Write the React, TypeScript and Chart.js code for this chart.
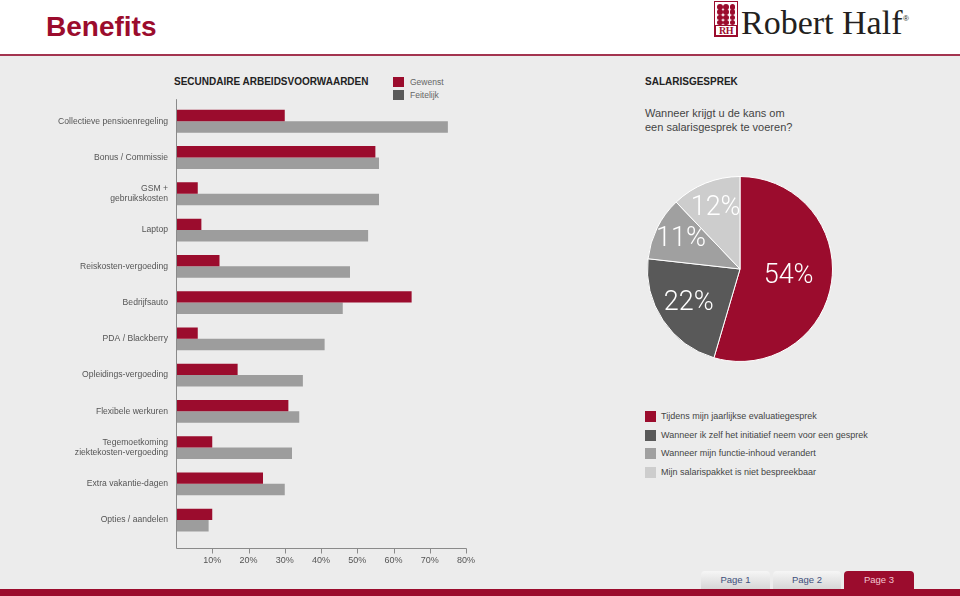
import React, { useEffect, useRef } from "react";
import { Chart, registerables } from "chart.js";

Chart.register(...registerables);

// ---------- data ----------
const categories: (string | string[])[] = [
  "Collectieve pensioenregeling",
  "Bonus / Commissie",
  ["GSM +", "gebruikskosten"],
  "Laptop",
  "Reiskosten-vergoeding",
  "Bedrijfsauto",
  "PDA / Blackberry",
  "Opleidings-vergoeding",
  "Flexibele werkuren",
  ["Tegemoetkoming", "ziektekosten-vergoeding"],
  "Extra vakantie-dagen",
  "Opties / aandelen",
];
const gewenst = [30, 55, 6, 7, 12, 65, 6, 17, 31, 10, 24, 10];
const feitelijk = [75, 56, 56, 53, 48, 46, 41, 35, 34, 32, 30, 9];
const barSeriesNames = ["Gewenst", "Feitelijk"];
const xMax = 80;
const xStep = 10;

const pieLabels = [
  "Tijdens mijn jaarlijkse evaluatiegesprek",
  "Wanneer ik zelf het initiatief neem voor een gesprek",
  "Wanneer mijn functie-inhoud verandert",
  "Mijn salarispakket is niet bespreekbaar",
];
const pieValues = [54, 22, 11, 12];

const tabLabels = ["Page 1", "Page 2", "Page 3"];

// ---------- styles ----------
const RED = "#9b0c2d";
const BAR_GRAY = "#9d9d9d";
const LEGEND_DARK = "#5a5a5a";
const PIE_COLORS = [RED, "#595959", "#a0a0a0", "#cdcdcd"];
const FONT = "'Liberation Sans', Arial, sans-serif";

const axisPlugin = {
  id: "customAxes",
  afterDraw(chart: any) {
    const { ctx, chartArea, scales } = chart;
    const x = scales.x;
    const x0 = Math.round(x.getPixelForValue(0)) + 0.5;
    const yb = Math.round(chartArea.bottom + 10) + 0.5;
    ctx.save();
    ctx.strokeStyle = "#8a8a8a";
    ctx.lineWidth = 1;
    ctx.beginPath();
    ctx.moveTo(x0, chartArea.top - 4);
    ctx.lineTo(x0, yb);
    ctx.stroke();
    ctx.beginPath();
    ctx.moveTo(x0, yb);
    ctx.lineTo(Math.round(x.getPixelForValue(xMax)) + 0.5, yb);
    x.ticks.forEach((t: any) => {
      if (t.value === 0) return;
      const px = Math.round(x.getPixelForValue(t.value)) + 0.5;
      ctx.moveTo(px, yb);
      ctx.lineTo(px, yb + 5);
    });
    ctx.stroke();
    ctx.restore();
  },
};

const pieLabelPlugin = {
  id: "pieLabels",
  afterDatasetsDraw(chart: any) {
    const { ctx } = chart;
    const meta = chart.getDatasetMeta(0);
    const total = pieValues.reduce((a, b) => a + b, 0);
    ctx.save();
    ctx.fillStyle = "#ffffff";
    ctx.font = "300 27px Roboto, 'Liberation Sans', sans-serif";
    ctx.textAlign = "center";
    ctx.textBaseline = "middle";
    meta.data.forEach((arc: any, i: number) => {
      const p = arc.getProps(["x", "y", "startAngle", "endAngle", "outerRadius"], true);
      const mid = (p.startAngle + p.endAngle) / 2;
      const frac = pieValues[i] / total;
      const r = p.outerRadius * (0.76 - 0.42 * frac);
      ctx.fillText(`${pieValues[i]}%`, p.x + Math.cos(mid) * r, p.y + Math.sin(mid) * r);
    });
    ctx.restore();
  },
};

function BarChart() {
  const ref = useRef<HTMLCanvasElement>(null);
  useEffect(() => {
    if (!ref.current) return;
    const chart = new Chart(ref.current, {
      type: "bar",
      data: {
        labels: categories as any,
        datasets: [
          {
            label: barSeriesNames[0],
            data: gewenst,
            backgroundColor: RED,
            categoryPercentage: 0.63,
            barPercentage: 1,
          },
          {
            label: barSeriesNames[1],
            data: feitelijk,
            backgroundColor: BAR_GRAY,
            categoryPercentage: 0.63,
            barPercentage: 1,
          },
        ],
      },
      options: {
        indexAxis: "y",
        responsive: false,
        animation: false,
        layout: { padding: { top: 9, right: 34, left: 0, bottom: 0 } },
        plugins: { legend: { display: false }, tooltip: { enabled: false } },
        scales: {
          x: {
            min: 0,
            max: xMax,
            ticks: {
              stepSize: xStep,
              callback: (v: any) => (v === 0 ? "" : `${v}%`),
              font: { size: 9, family: FONT },
              color: "#555",
              padding: 17,
              maxRotation: 0,
              autoSkip: false,
            },
            grid: { display: false, drawTicks: false },
            border: { display: false },
            afterFit: (s: any) => {
              s.height = 41.8;
            },
          },
          y: {
            ticks: {
              font: { size: 8.6, family: FONT },
              color: "#555",
              padding: 8,
              autoSkip: false,
            },
            grid: { display: false, drawTicks: false },
            border: { display: false },
            afterFit: (s: any) => {
              s.width = 176;
            },
          },
        },
      } as any,
      plugins: [axisPlugin],
    });
    return () => chart.destroy();
  }, []);
  return (
    <canvas
      ref={ref}
      width={500}
      height={490}
      style={{ position: "absolute", left: 0, top: 90, width: 500, height: 490 }}
    />
  );
}

function PieChart() {
  const ref = useRef<HTMLCanvasElement>(null);
  useEffect(() => {
    if (!ref.current) return;
    const chart = new Chart(ref.current, {
      type: "pie",
      data: {
        labels: pieLabels,
        datasets: [
          {
            data: pieValues,
            backgroundColor: PIE_COLORS,
            borderColor: "#ffffff",
            borderWidth: 1,
          },
        ],
      },
      options: {
        responsive: false,
        animation: false,
        layout: { padding: 0 },
        plugins: { legend: { display: false }, tooltip: { enabled: false } },
      } as any,
      plugins: [pieLabelPlugin],
    });
    return () => chart.destroy();
  }, []);
  return (
    <canvas
      ref={ref}
      width={186}
      height={186}
      style={{ position: "absolute", left: 647, top: 176, width: 186, height: 186 }}
    />
  );
}

function Text(props: {
  x: number;
  y: number;
  size: number;
  children: React.ReactNode;
  color?: string;
  weight?: number | string;
  family?: string;
  spacing?: number;
}) {
  return (
    <div
      style={{
        position: "absolute",
        left: props.x,
        top: props.y - props.size / 2,
        fontSize: props.size,
        lineHeight: `${props.size}px`,
        color: props.color || "#444",
        fontWeight: props.weight as any,
        fontFamily: props.family || FONT,
        letterSpacing: props.spacing,
        whiteSpace: "nowrap",
      }}
    >
      {props.children}
    </div>
  );
}

function Logo() {
  const dots = [];
  for (let r = 0; r < 4; r++)
    for (let c = 0; c < 3; c++)
      dots.push(
        <div
          key={`${r}-${c}`}
          style={{
            position: "absolute",
            left: 2 + c * 6.3,
            top: 2 + r * 5.3,
            width: 5.5,
            height: 5.5,
            borderRadius: 3,
            background: RED,
          }}
        />
      );
  return (
    <>
      <div
        style={{
          position: "absolute",
          left: 714,
          top: 1,
          width: 24,
          height: 36,
          border: `1px solid ${RED}`,
          boxSizing: "border-box",
        }}
      >
        {dots}
        <div
          style={{
            position: "absolute",
            left: 0,
            top: 23,
            width: 22,
            height: 11,
            border: `1px solid ${RED}`,
            boxSizing: "border-box",
            fontFamily: "'Liberation Serif', serif",
            fontSize: 10,
            lineHeight: "10px",
            color: RED,
            textAlign: "center",
            fontWeight: 700,
            letterSpacing: -0.5,
          }}
        >
          RH
        </div>
      </div>
      <div
        style={{
          position: "absolute",
          left: 741,
          top: 6,
          fontFamily: "'Liberation Serif', serif",
          fontSize: 34,
          lineHeight: "34px",
          color: "#231f20",
          whiteSpace: "nowrap",
        }}
      >
        Robert Half
      </div>
      <div
        style={{
          position: "absolute",
          left: 903,
          top: 15,
          fontFamily: FONT,
          fontSize: 8,
          lineHeight: "8px",
          color: "#231f20",
        }}
      >
        ®
      </div>
    </>
  );
}

export default function App() {
  return (
    <div
      style={{
        position: "fixed",
        left: 0,
        top: 0,
        width: 960,
        height: 596,
        overflow: "hidden",
        background: "#ffffff",
        fontFamily: FONT,
      }}
    >
      {/* header */}
      <div
        style={{
          position: "absolute",
          left: 46,
          top: 13,
          fontSize: 28,
          lineHeight: "28px",
          fontWeight: 700,
          color: RED,
          fontFamily: FONT,
        }}
      >
        Benefits
      </div>
      <Logo />
      <div style={{ position: "absolute", left: 0, top: 54, width: 960, height: 2, background: "#a3344f" }} />
      {/* panel */}
      <div style={{ position: "absolute", left: 0, top: 56, width: 960, height: 533, background: "#ececec" }} />
      <div style={{ position: "absolute", left: 0, top: 589, width: 960, height: 7, background: RED }} />

      {/* left section header & legend */}
      <Text x={174} y={82} size={10} weight={700} color="#222">
        SECUNDAIRE ARBEIDSVOORWAARDEN
      </Text>
      <div style={{ position: "absolute", left: 393, top: 77, width: 11, height: 10, background: RED }} />
      <div style={{ position: "absolute", left: 393, top: 90, width: 11, height: 10, background: LEGEND_DARK }} />
      <Text x={410} y={82} size={8.5} color="#666">
        {barSeriesNames[0]}
      </Text>
      <Text x={410} y={95} size={8.5} color="#666">
        {barSeriesNames[1]}
      </Text>

      <BarChart />

      {/* right section */}
      <Text x={645} y={82} size={10} weight={700} color="#222">
        SALARISGESPREK
      </Text>
      <Text x={645} y={113} size={11} color="#444">
        Wanneer krijgt u de kans om
      </Text>
      <Text x={645} y={127} size={11} color="#444">
        een salarisgesprek te voeren?
      </Text>

      <PieChart />

      {pieLabels.map((l, i) => (
        <React.Fragment key={l}>
          <div
            style={{
              position: "absolute",
              left: 645,
              top: 411 + i * 18.5,
              width: 11,
              height: 11,
              background: PIE_COLORS[i],
            }}
          />
          <Text x={661} y={416.5 + i * 18.5} size={9} color="#444">
            {l}
          </Text>
        </React.Fragment>
      ))}

      {/* tabs */}
      {tabLabels.map((t, i) => {
        const lefts = [701, 773, 844];
        const widths = [69, 68, 70];
        const active = i === 2;
        return (
          <div
            key={t}
            style={{
              position: "absolute",
              left: lefts[i],
              top: 571,
              width: widths[i],
              height: 18,
              borderRadius: "4px 4px 0 0",
              background: active ? RED : "linear-gradient(#f6f6f6, #d6d6d6)",
              color: active ? "#f3c6d1" : "#3e4f7c",
              fontSize: 9.5,
              lineHeight: "18px",
              textAlign: "center",
              fontFamily: FONT,
            }}
          >
            {t}
          </div>
        );
      })}
    </div>
  );
}
